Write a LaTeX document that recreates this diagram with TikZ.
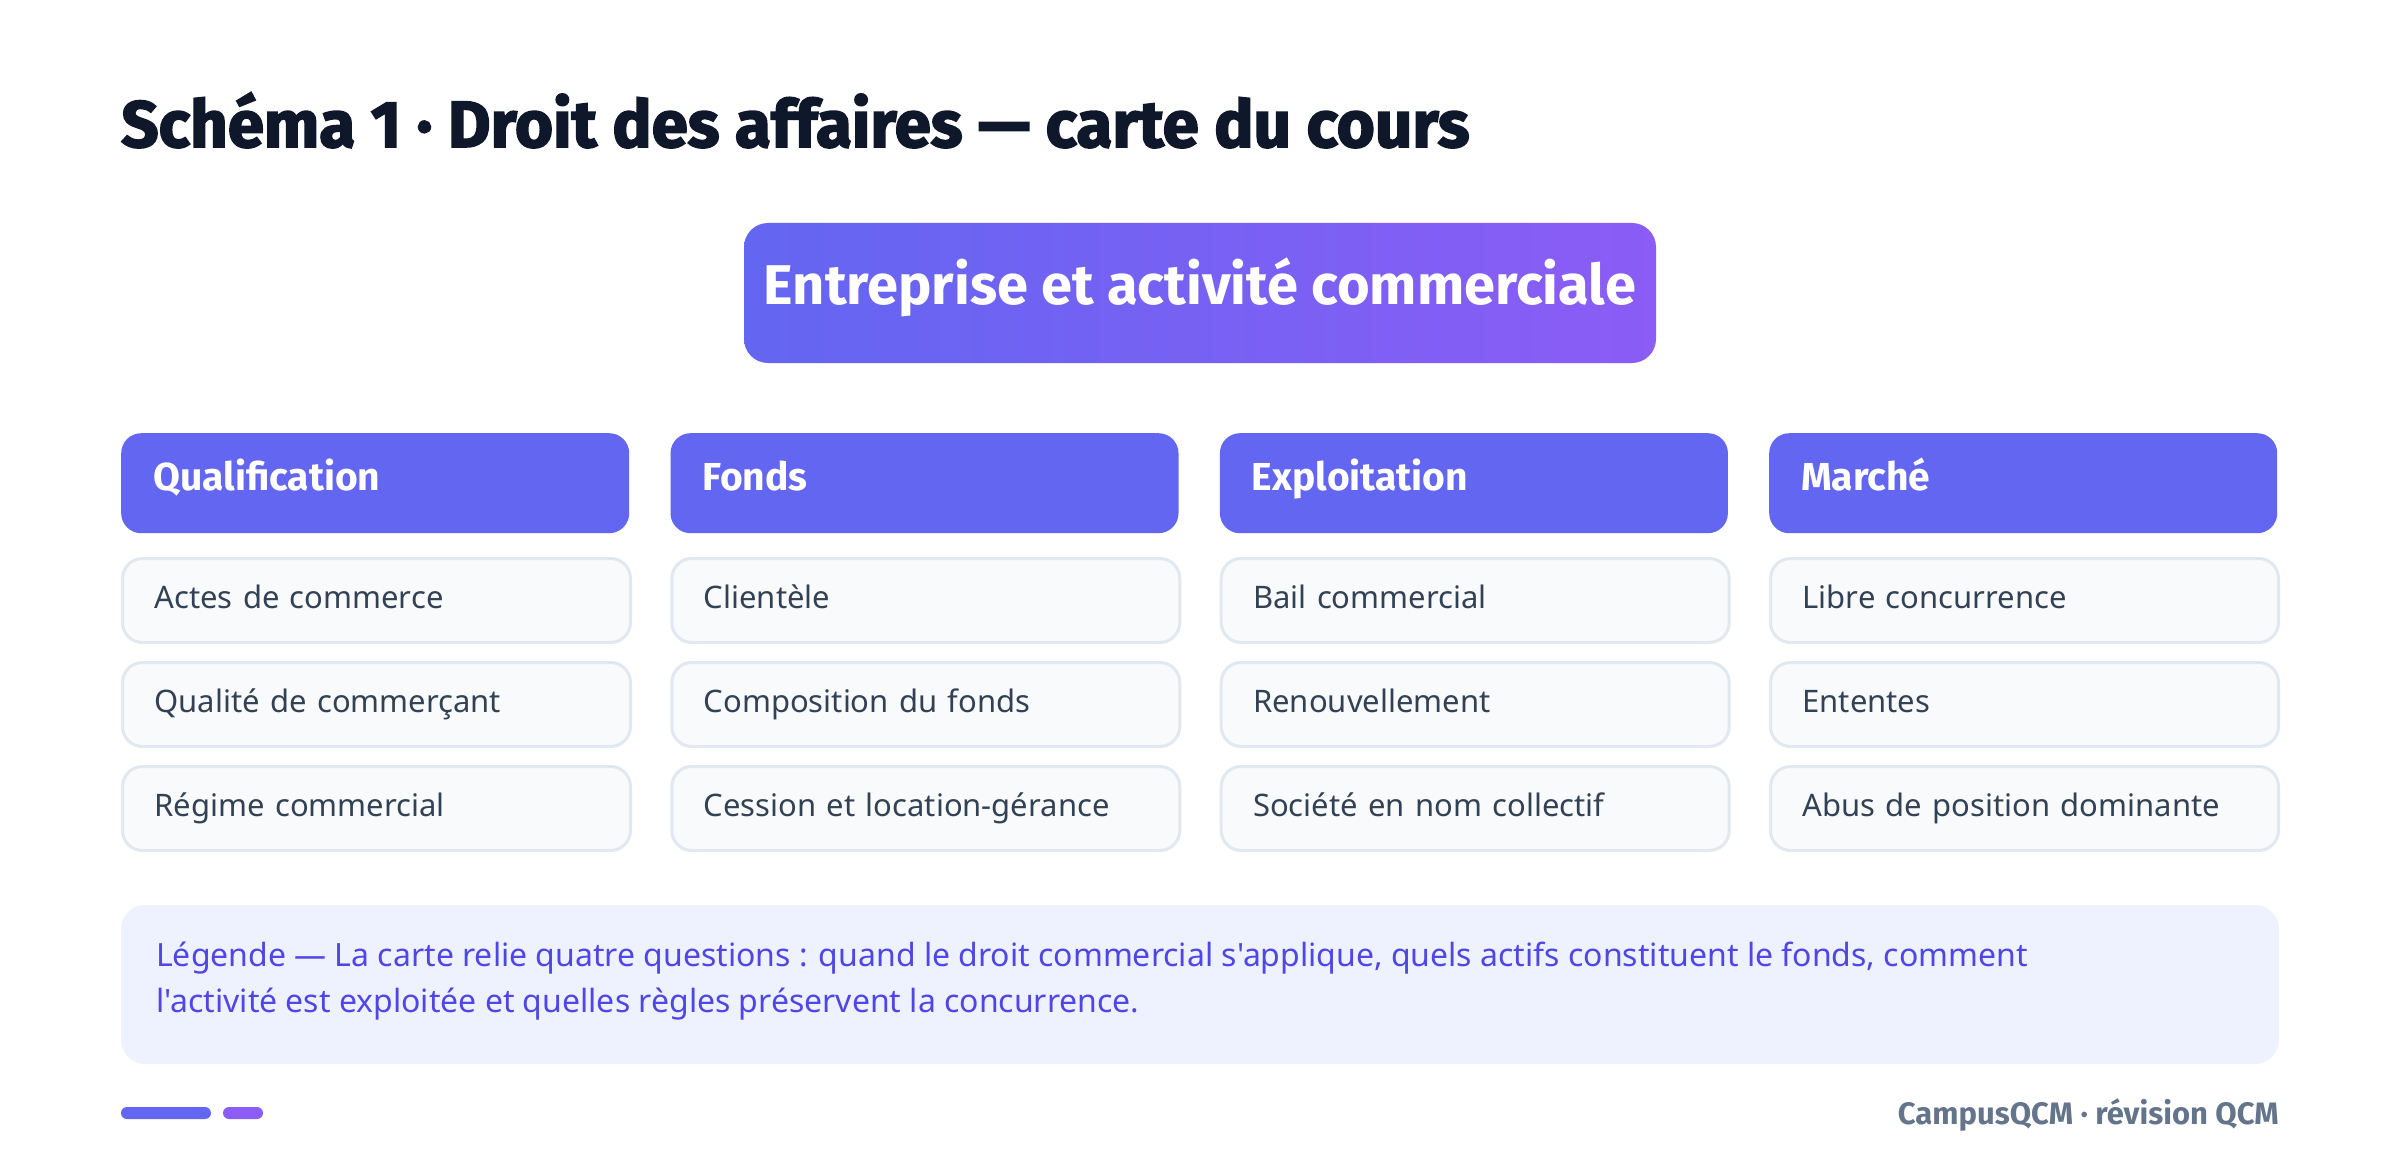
\documentclass[tikz,border=0pt]{standalone}
\usepackage{fontspec}
\setmainfont{Noto Sans}
\newfontfamily\heavyfont{Fira Sans}[BoldFeatures={FakeBold=2.5}]
\newfontfamily\boldfont{Fira Sans}
\newfontfamily\legfont{Noto Sans}[Ligatures=TeXOff]
\definecolor{titlec}{HTML}{0F172A}
\definecolor{indigoA}{HTML}{6366F1}
\definecolor{violetA}{HTML}{8B5CF6}
\definecolor{itemfill}{HTML}{F8FAFC}
\definecolor{itemline}{HTML}{E2E8F0}
\definecolor{itemtext}{HTML}{334155}
\definecolor{legfill}{HTML}{EEF2FF}
\definecolor{legtext}{HTML}{4F46E5}
\definecolor{foottext}{HTML}{64748B}
\tikzset{
  headbox/.style={fill=indigoA, rounded corners=20pt, minimum height=100pt, text width=444pt,
    inner xsep=32pt, inner ysep=0pt, anchor=north west, align=left, text=white,
    font=\boldfont\bfseries\fontsize{39}{44}\selectfont, text height=26pt, text depth=12pt},
  itembox/.style={fill=itemfill, draw=itemline, line width=3pt, rounded corners=20pt,
    minimum height=84pt, text width=444pt, inner xsep=32pt, inner ysep=0pt,
    anchor=north west, align=left, text=itemtext, font=\fontsize{31}{36}\selectfont,
    text height=24pt, text depth=8pt},
}
\begin{document}
\begin{tikzpicture}[x=1pt,y=-1pt]
\useasboundingbox[fill=white] (0,0) rectangle (2400,1174);
% title
\node[anchor=base west, inner sep=0pt, text=titlec, font=\heavyfont\bfseries\fontsize{65.5}{72}\selectfont]
  (title) at (121,147) {Schéma 1 · Droit des affaires — carte du cours};
% central
\shade[rounded corners=24pt, left color=indigoA, right color=violetA] (744,223) rectangle (1656,363);
\node[anchor=base, text=white, font=\boldfont\bfseries\fontsize{56}{62}\selectfont, inner sep=0pt] (root) at (1200,305)
  {Entreprise et activité commerciale};
% columns
\foreach \x/\h/\a/\b/\c [count=\i] in {
  121/Qualification/Actes de commerce/Qualité de commerçant/Régime commercial,
  670.3/Fonds/Clientèle/Composition du fonds/Cession et location-gérance,
  1219.7/Exploitation/Bail commercial/Renouvellement/Société en nom collectif,
  1769/Marché/Libre concurrence/Ententes/Abus de position dominante}{
  \node[headbox] (h\i) at (\x,433) {\h};
  \node[itembox] (a\i) at (\x,557) {\a};
  \node[itembox] (b\i) at (\x,661) {\b};
  \node[itembox] (c\i) at (\x,765) {\c};
}
% legend
\fill[legfill, rounded corners=24pt] (121,905) rectangle (2279,1064);
\node[anchor=west, align=left, inner sep=0pt, text=legtext, font=\legfont\fontsize{32}{46}\selectfont]
  (leg) at (156,981) {Légende — La carte relie quatre questions : quand le droit commercial s'applique, quels actifs constituent le fonds, comment\\l'activité est exploitée et quelles règles préservent la concurrence.};
% footer
\fill[indigoA, rounded corners=6pt] (121,1107) rectangle (211,1119);
\fill[violetA, rounded corners=6pt] (223,1107) rectangle (263,1119);
\node[anchor=base east, inner sep=0pt, text=foottext, font=\boldfont\bfseries\fontsize{31}{34}\selectfont]
  (foot) at (2279,1124) {CampusQCM · révision QCM};
\end{tikzpicture}
\end{document}
